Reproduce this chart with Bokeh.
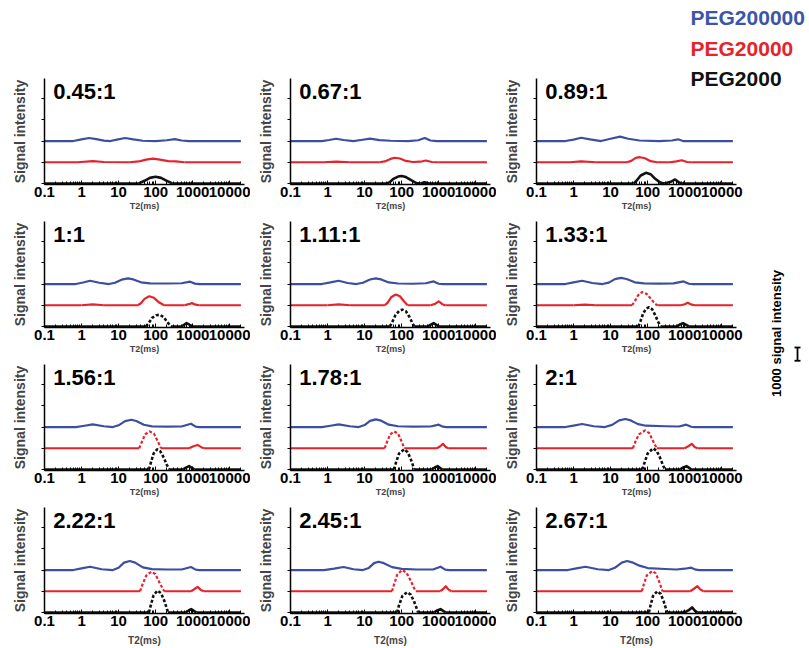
from math import pi, nan
from bokeh.plotting import figure
from bokeh.layouts import column
from bokeh.models import Range1d, FixedTicker, GridBox
from bokeh.core.properties import value
from bokeh.embed import file_html
from bokeh.resources import INLINE

# ---------------- data ----------------
RATIOS = ["0.45:1", "0.67:1", "0.89:1", "1:1", "1.11:1", "1.33:1",
          "1.56:1", "1.78:1", "2:1", "2.22:1", "2.45:1", "2.67:1"]
SERIES = ["PEG200000", "PEG20000", "PEG2000"]
X_TICKS = [0.1, 1, 10, 100, 1000, 10000]
X_TICK_LABELS = ["0.1", "1", "10", "100", "1000", "10000"]
Y_TICKS = [0, 1600, 3200, 4800, 6400]
OFFSETS = [3200, 1600, 0]          # vertical stacking of the three series
SCALE_BAR = 1000                   # "1000 signal intensity"

# (T2 in ms, signal intensity) per panel, in RATIOS order
PEG200000 = [
    [(0.1,0),(0.6,0),(1.0,130),(1.6,230),(2.5,150),(4,30),(6,0),(9,110),(15,230),(25,120),(45,20),(100,0),(200,60),(330,150),(500,40),(800,0),(20000,0)],
    [(0.1,0),(0.7,0),(1.1,80),(1.7,170),(2.7,80),(5,0),(8,80),(14,180),(25,70),(50,20),(150,0),(280,60),(420,230),(600,40),(900,0),(20000,0)],
    [(0.1,0),(0.6,0),(1.0,110),(1.6,250),(2.8,120),(5.5,0),(10,170),(18,330),(30,170),(60,40),(200,0),(450,40),(660,130),(900,0),(20000,0)],
    [(0.1,0),(0.7,0),(1.1,120),(1.7,250),(3,100),(5.5,0),(8,100),(12,330),(18,430),(25,350),(40,130),(70,50),(200,40),(500,60),(850,180),(1150,30),(1500,0),(20000,0)],
    [(0.1,0),(0.7,0),(1.2,120),(2,250),(3.5,80),(6,0),(9,100),(14,340),(20,430),(28,350),(45,120),(80,40),(200,20),(450,60),(730,200),(1000,20),(1300,0),(20000,0)],
    [(0.1,0),(0.6,0),(1.0,120),(1.7,250),(3.2,80),(6,0),(9,110),(13,370),(19,460),(27,380),(45,130),(80,50),(200,30),(500,50),(930,200),(1300,20),(1700,0),(20000,0)],
    [(0.1,0),(0.7,0),(1.2,100),(2,200),(4,60),(7,0),(10,130),(15,450),(22,550),(30,460),(48,170),(80,50),(200,30),(500,40),(900,250),(1200,30),(1500,0),(20000,0)],
    [(0.1,0),(0.7,0),(1.2,100),(2,200),(4,60),(7,0),(10,150),(14,470),(20,580),(28,480),(45,180),(80,60),(200,30),(600,40),(1000,180),(1300,30),(1600,0),(20000,0)],
    [(0.1,0),(0.6,0),(1.0,110),(1.7,230),(3.5,60),(7,0),(11,160),(17,500),(25,610),(35,500),(55,220),(90,100),(300,60),(700,40),(1100,180),(1500,20),(1800,0),(20000,0)],
    [(0.1,0),(0.6,0),(1.0,120),(1.7,250),(3.5,60),(7,0),(10,170),(14,560),(20,680),(28,560),(45,200),(80,70),(200,40),(500,40),(900,230),(1200,30),(1500,0),(20000,0)],
    [(0.1,0),(0.8,0),(1.5,110),(2.7,230),(5,60),(9,0),(13,160),(18,520),(24,630),(33,520),(55,220),(100,90),(250,40),(700,40),(1120,250),(1500,30),(1900,0),(20000,0)],
    [(0.1,0),(0.7,0),(1.2,120),(2.1,250),(4.5,60),(9,0),(13,170),(20,560),(28,680),(38,580),(60,330),(100,150),(300,80),(600,40),(1000,100),(1500,180),(2000,30),(2500,0),(20000,0)],
]
PEG20000 = [
    [(0.1,0),(0.8,0),(2,80),(4,20),(20,0),(35,60),(55,200),(85,270),(130,200),(220,90),(350,60),(600,0),(20000,0)],
    [(0.1,0),(0.8,0),(1.7,50),(4,0),(25,0),(35,60),(50,250),(65,340),(90,280),(130,100),(200,20),(320,40),(450,130),(650,20),(1000,0),(20000,0)],
    [(0.1,0),(0.8,0),(1.6,60),(4,0),(28,0),(36,100),(48,330),(62,380),(85,300),(120,80),(180,0),(400,0),(600,60),(830,150),(1150,20),(1500,0),(20000,0)],
    [(0.1,0),(1,0),(2,60),(4,0),(33,0),(40,150),(50,480),(67,680),(90,560),(125,200),(170,0),(600,0),(780,80),(950,160),(1200,40),(1500,0),(20000,0)],
    [(0.1,0),(1,0),(2,60),(4,0),(35,0),(42,200),(52,600),(69,810),(90,680),(115,300),(145,0),(600,0),(800,100),(1000,300),(1250,80),(1500,0),(20000,0)],
    [(0.1,0),(1,0),(2,50),(4,0),(38,0),(45,300),(55,750),(71,1000),(95,850),(125,450),(160,100),(185,0),(800,0),(1000,80),(1200,180),(1550,40),(1900,0),(20000,0)],
    [(0.1,0),(36,0),(42,450),(52,1050),(69,1270),(90,1100),(115,500),(140,0),(800,0),(1050,150),(1350,250),(1700,80),(2000,0),(20000,0)],
    [(0.1,0),(35,0),(40,450),(49,1050),(63,1270),(80,1100),(100,500),(118,0),(900,0),(1100,150),(1300,330),(1550,100),(1800,0),(20000,0)],
    [(0.1,0),(40,0),(46,450),(58,1050),(85,1340),(110,1150),(140,550),(175,0),(1000,0),(1250,150),(1550,330),(1850,100),(2200,0),(20000,0)],
    [(0.1,0),(38,0),(44,500),(56,1200),(76,1470),(98,1300),(130,600),(170,0),(900,0),(1100,150),(1350,330),(1650,100),(2000,0),(20000,0)],
    [(0.1,0),(55,0),(62,500),(76,1250),(102,1600),(135,1400),(175,800),(215,250),(240,0),(1100,0),(1300,150),(1550,380),(1850,120),(2200,0),(20000,0)],
    [(0.1,0),(70,0),(78,500),(95,1200),(133,1520),(165,1350),(200,800),(235,250),(251,0),(1400,0),(1700,150),(2200,380),(2700,120),(3200,0),(20000,0)],
]
PEG2000 = [
    [(0.1,0),(35,0),(50,200),(70,420),(100,500),(140,420),(200,200),(280,0),(20000,0)],
    [(0.1,0),(40,0),(48,100),(60,350),(80,520),(100,560),(130,480),(180,250),(250,30),(320,0),(420,80),(550,0),(20000,0)],
    [(0.1,0),(42,0),(50,200),(65,600),(90,800),(120,700),(160,350),(220,60),(280,0),(420,120),(550,300),(700,80),(850,0),(20000,0)],
    [(0.1,0),(55,0),(65,250),(80,650),(105,850),(130,880),(165,700),(210,300),(260,0),(500,0),(600,150),(680,250),(800,150),(950,0),(20000,0)],
    [(0.1,0),(48,0),(56,350),(68,850),(85,1170),(105,1270),(130,1150),(160,750),(195,250),(220,0),(500,0),(600,120),(730,250),(880,100),(1000,0),(20000,0)],
    [(0.1,0),(56,0),(64,400),(76,1000),(92,1350),(110,1450),(132,1300),(160,850),(195,300),(225,0),(600,0),(750,150),(900,250),(1100,120),(1300,0),(20000,0)],
    [(0.1,0),(66,0),(74,500),(88,1200),(110,1520),(135,1350),(165,900),(200,350),(235,0),(550,0),(680,150),(800,250),(950,120),(1100,0),(20000,0)],
    [(0.1,0),(62,0),(70,500),(85,1200),(117,1520),(145,1300),(175,800),(205,250),(220,0),(650,0),(780,150),(930,250),(1100,100),(1250,0),(20000,0)],
    [(0.1,0),(72,0),(82,500),(100,1200),(141,1600),(175,1400),(215,900),(260,300),(295,0),(750,0),(900,150),(1120,250),(1350,100),(1500,0),(20000,0)],
    [(0.1,0),(66,0),(74,550),(88,1300),(112,1650),(140,1450),(170,900),(200,300),(215,0),(650,0),(780,150),(910,250),(1100,100),(1250,0),(20000,0)],
    [(0.1,0),(75,0),(85,550),(105,1250),(141,1520),(175,1350),(215,850),(255,300),(280,0),(750,0),(900,150),(1120,250),(1350,100),(1550,0),(20000,0)],
    [(0.1,0),(108,0),(120,550),(140,1250),(182,1600),(225,1400),(270,850),(315,250),(340,0),(1000,0),(1250,150),(1580,380),(1900,120),(2200,0),(20000,0)],
]

# ---------------- style ----------------
FONT = "Liberation Sans"
COLORS = ["#3b4f9e", "#e5232b", "#111111"]
LEGEND_COLORS = ["#3b56a6", "#e5232b", "#111111"]
WIDTHS = [2.2, 2.2, 2.6]
DOTTED_ABOVE = 850                 # tall peaks are drawn with a dotted look
Y0, Y1 = -80, 7920
FRAME_W, FRAME_H = 200, 106
COL_W = [250, 246, 313]
COL_LEFT = [44, 40, 40]
ROW_TOP = [78, 7, 7, 7]
ROW_BOTTOM = [30, 30, 30, 35]
PAGE_W, PAGE_H = 809, 648
MINOR = [m * 10.0 ** k for k in range(-1, 5) for m in range(2, 10)]


def draw_curve(p, pts, off, col, lw, solid):
    xs = [t for t, a in pts]
    ys = [a + off for t, a in pts]
    if solid:
        p.line(xs, ys, line_color=col, line_width=lw, line_join="round")
        return
    base = [y if a == 0 else nan for (t, a), y in zip(pts, ys)]
    p.line(xs, base, line_color=col, line_width=lw)
    n = len(pts)
    k = 0
    while k < n:
        if pts[k][1] != 0:
            s = k - 1
            e = k
            while e < n and pts[e][1] != 0:
                e += 1
            seg_x, seg_y = xs[s:e + 1], ys[s:e + 1]
            peak = max(a for t, a in pts[s:e + 1])
            dash = "3 2" if peak >= DOTTED_ABOVE else "solid"
            p.line(seg_x, seg_y, line_color=col, line_width=lw, line_dash=dash,
                   line_join="round")
            k = e
        else:
            k += 1


def make_panel(i):
    r, c = divmod(i, 3)
    w = COL_W[c]
    h = ROW_TOP[r] + FRAME_H + ROW_BOTTOM[r]
    p = figure(width=w, height=h, x_axis_type="log",
               x_range=Range1d(0.1, 25000), y_range=Range1d(Y0, Y1),
               output_backend="svg", toolbar_location=None,
               min_border_left=COL_LEFT[c], min_border_right=w - COL_LEFT[c] - FRAME_W,
               min_border_top=ROW_TOP[r], min_border_bottom=ROW_BOTTOM[r],
               x_axis_label="T2(ms)", y_axis_label="Signal intensity")
    p.grid.visible = False
    p.outline_line_color = None
    p.background_fill_color = "white"
    p.border_fill_color = "white"

    xa = p.xaxis[0]
    xa.ticker = FixedTicker(ticks=X_TICKS, minor_ticks=MINOR)
    xa.major_label_overrides = dict(zip(X_TICKS, X_TICK_LABELS))
    xa.major_label_text_font = FONT
    xa.major_label_text_font_style = "bold"
    xa.major_label_text_font_size = "15px"
    xa.major_label_text_color = "black"
    xa.major_label_standoff = 2
    xa.major_tick_in = 4
    xa.major_tick_out = 0
    xa.minor_tick_in = 3
    xa.minor_tick_out = 0
    xa.axis_line_width = 1.5
    xa.axis_label_text_font = FONT
    xa.axis_label_text_font_style = "bold"
    xa.axis_label_text_font_size = "10px" if r == 3 else "9px"
    xa.axis_label_standoff = 6 if r == 3 else 1

    ya = p.yaxis[0]
    ya.ticker = FixedTicker(ticks=Y_TICKS)
    ya.major_label_overrides = {t: "" for t in Y_TICKS}
    ya.major_label_text_font_size = "0px"
    ya.major_label_standoff = 0
    ya.major_tick_in = 0
    ya.major_tick_out = 3
    ya.axis_line_width = 1.5
    ya.axis_label_text_font = FONT
    ya.axis_label_text_font_style = "bold"
    ya.axis_label_text_font_size = "14px"
    ya.axis_label_standoff = 14

    for k, (data, off, col, lw) in enumerate(zip((PEG200000[i], PEG20000[i], PEG2000[i]),
                                                   OFFSETS, COLORS, WIDTHS)):
        draw_curve(p, data, off, col, lw, solid=(k == 0))

    p.text(x=[0.172], y=[Y1], text=[RATIOS[i]], text_font=value(FONT),
           text_font_style="bold", text_font_size="22px", text_baseline="top",
           text_color="black")
    return p


panels = [make_panel(i) for i in range(12)]

# full-page overlay (one data unit = one page pixel) for legend and scale bar
ov = figure(width=PAGE_W, height=PAGE_H, x_range=Range1d(0, PAGE_W),
            y_range=Range1d(PAGE_H, 0),
            min_border=0, toolbar_location=None, output_backend="svg",
            x_axis_location=None, y_axis_location=None)
ov.grid.visible = False
ov.outline_line_color = None
ov.background_fill_color = None
ov.border_fill_color = None
for name, col, yy in zip(SERIES, LEGEND_COLORS, [17, 48, 78]):
    ov.text(x=[690], y=[yy], text=[name], text_color=col, text_font=value(FONT),
            text_font_style="bold", text_font_size="21px", text_baseline="middle")
ov.text(x=[776], y=[333], text=["1000 signal intensity"], angle=pi / 2,
        text_font=value(FONT), text_font_style="bold", text_font_size="13px",
        text_align="center", text_baseline="middle", text_color="black")
bar_px = SCALE_BAR * FRAME_H / (Y1 - Y0)
bx, by = 797, 347
ov.segment(x0=[bx, bx - 3, bx - 3], y0=[by, by, by + bar_px],
           x1=[bx, bx + 3, bx + 3], y1=[by + bar_px, by, by + bar_px],
           line_color="black", line_width=1.8)

holder = column(ov, spacing=0)
children = [(panels[i], i // 3, i % 3) for i in range(12)] + [(holder, 0, 0, 4, 3)]
grid = GridBox(children=children, spacing=0)

open("out.html", "w").write(file_html(grid, INLINE))
